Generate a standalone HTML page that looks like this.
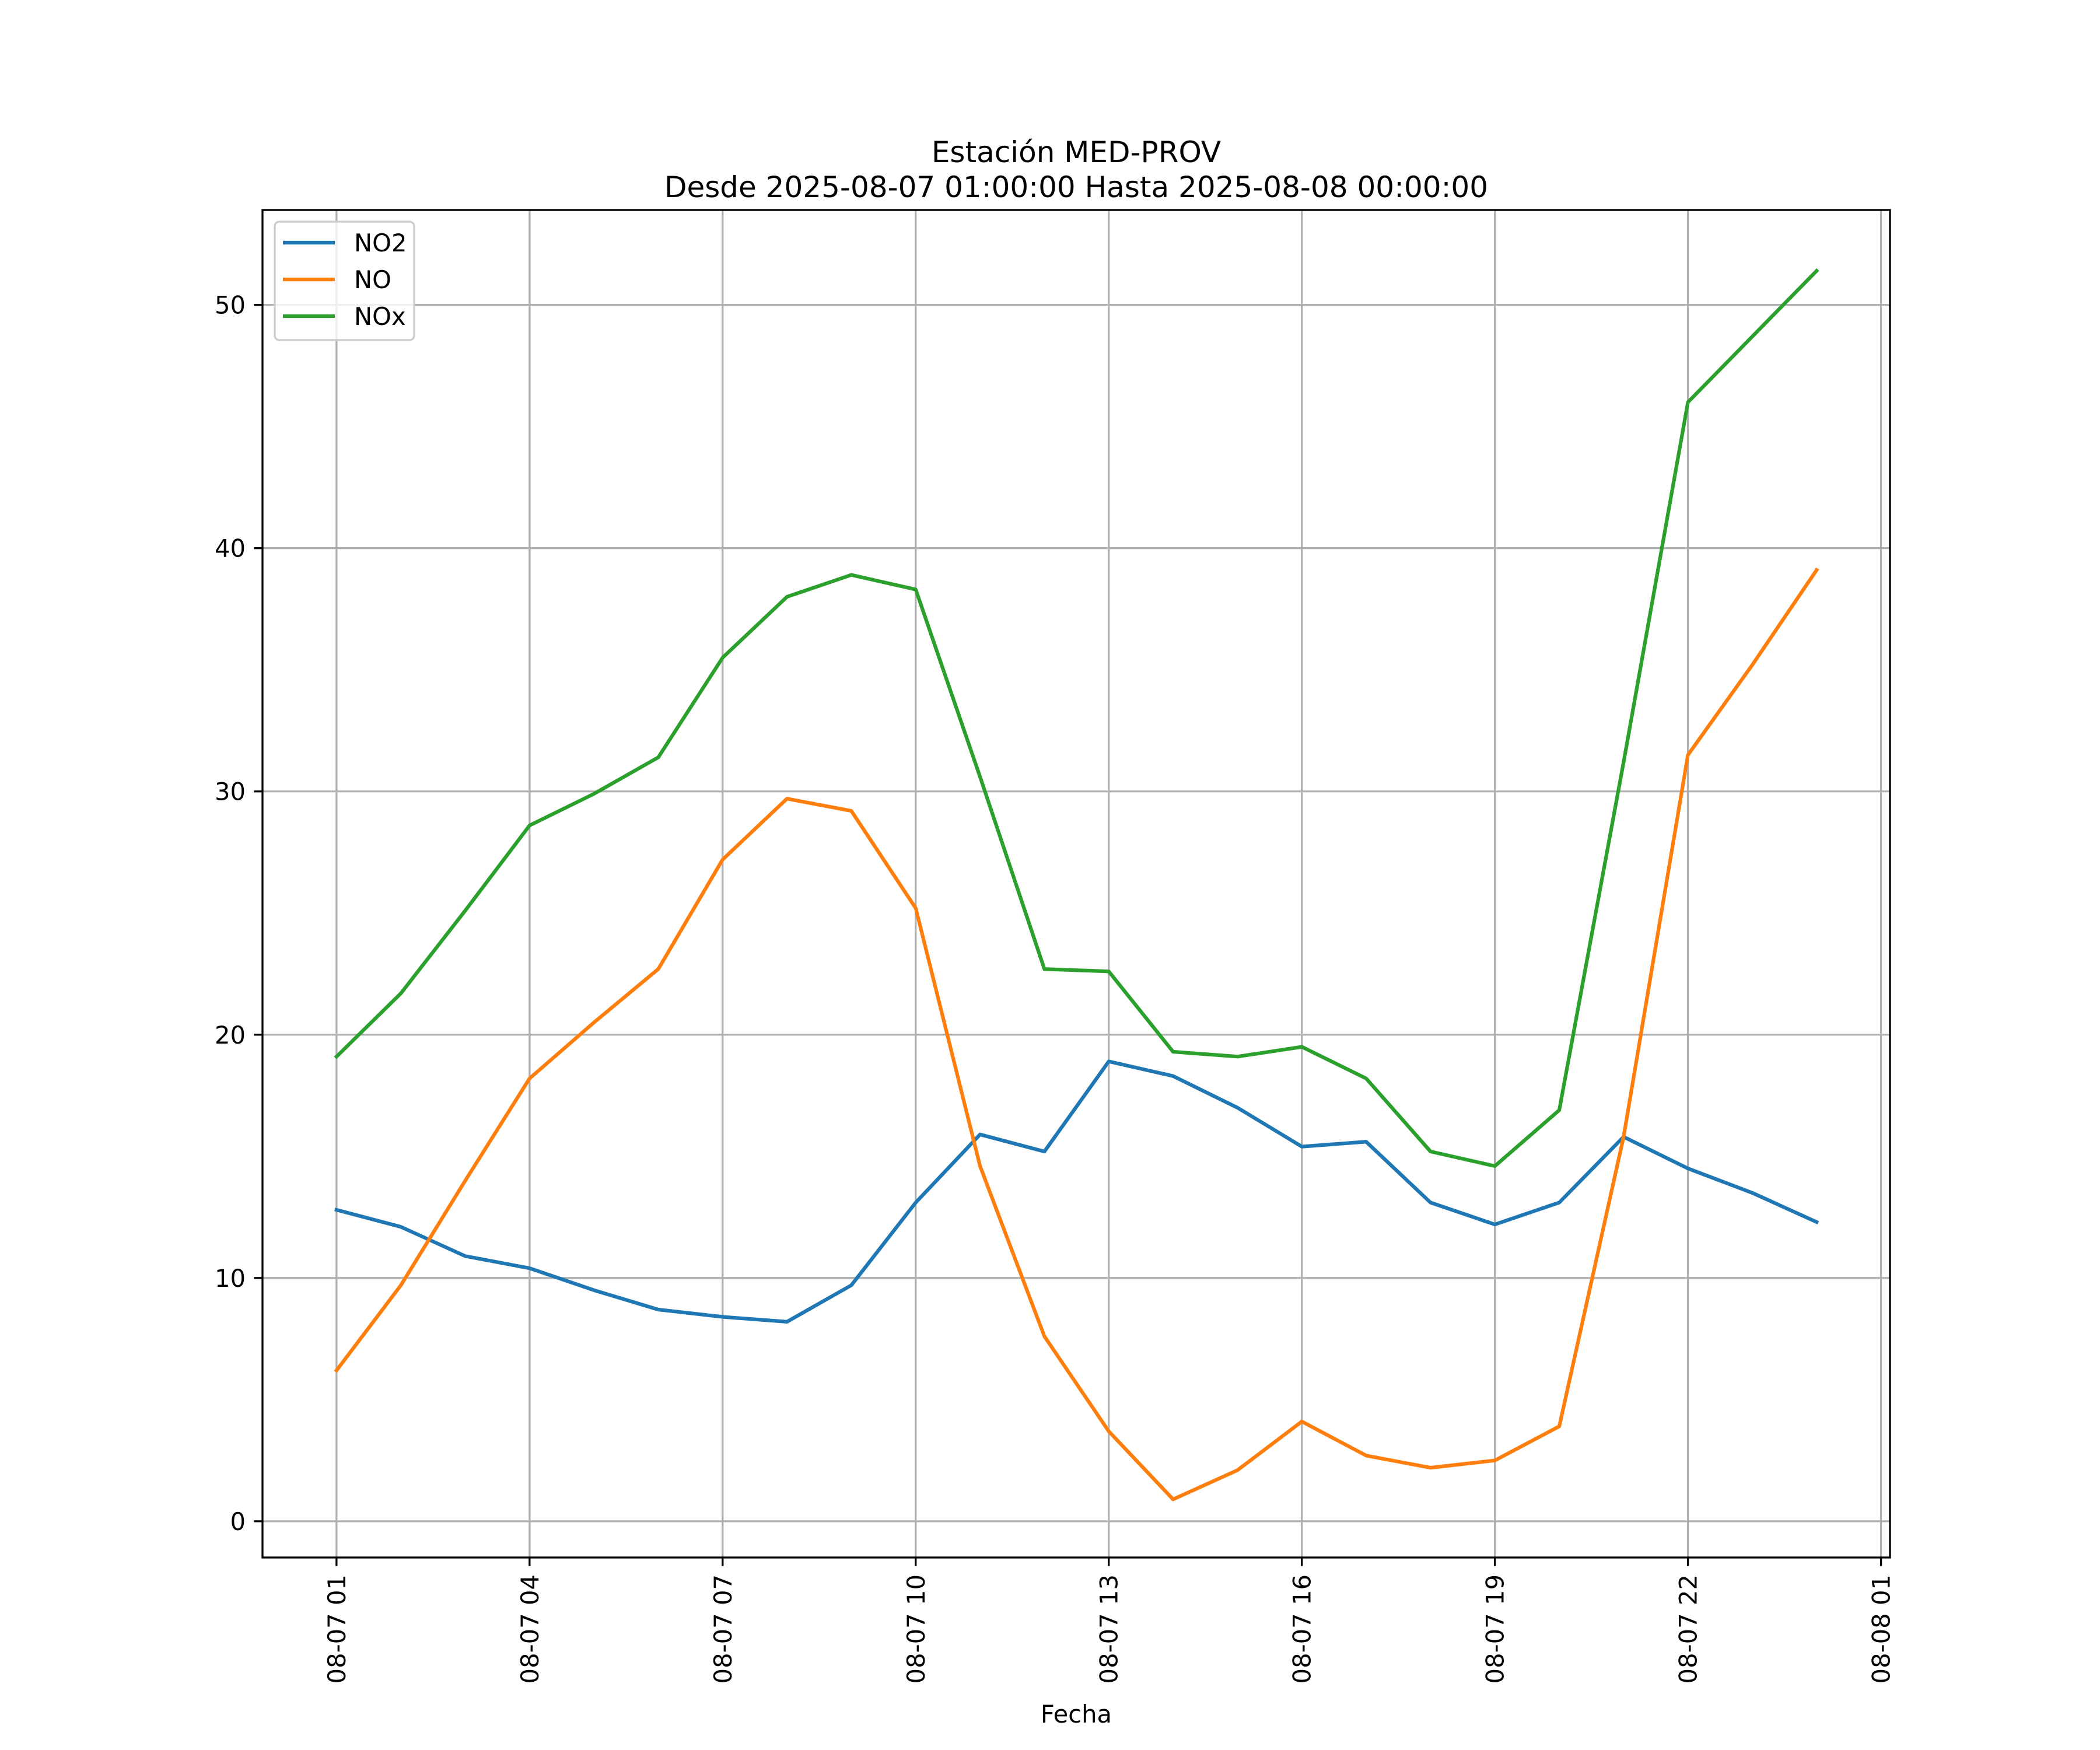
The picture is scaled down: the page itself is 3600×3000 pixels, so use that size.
<!DOCTYPE html>
<html><head><meta charset="utf-8"><style>
html,body{margin:0;padding:0;background:#fff}
svg{display:block;font-family:"DejaVu Sans","Liberation Sans",sans-serif}
</style></head><body>
<svg id="chart" width="3600" height="3000" viewBox="0 0 3600 3000" xmlns="http://www.w3.org/2000/svg">
<rect width="3600" height="3000" fill="#fff"/>
<text x="1845" y="278" font-size="50" text-anchor="middle">Estación MED-PROV</text>
<text x="1845" y="338" font-size="50" text-anchor="middle">Desde 2025-08-07 01:00:00 Hasta 2025-08-08 00:00:00</text>
<g id="grid"></g>
<g id="series"></g>
<rect x="450" y="360" width="2790" height="2310" fill="none" stroke="#000" stroke-width="3.3"/>
<g id="ticks"></g>
<text x="1845" y="2953" font-size="41.7" text-anchor="middle">Fecha</text>
<g>
<rect x="471" y="380" width="239" height="203" rx="8" fill="#fff" fill-opacity="0.8" stroke="#cccccc" stroke-width="3.3"/>
<line x1="485" y1="416" x2="574" y2="416" stroke="#1f77b4" stroke-width="6.25"/>
<text x="607" y="431" font-size="41.7">NO2</text>
<line x1="485" y1="479" x2="574" y2="479" stroke="#ff7f0e" stroke-width="6.25"/>
<text x="607" y="494" font-size="41.7">NO</text>
<line x1="485" y1="542" x2="574" y2="542" stroke="#2ca02c" stroke-width="6.25"/>
<text x="607" y="557" font-size="41.7">NOx</text>
</g>
</svg>
<script>
const hours = [0,1,2,3,4,5,6,7,8,9,10,11,12,13,14,15,16,17,18,19,20,21,22,23];
const no2 = [12.8,12.1,10.9,10.4,9.5,8.7,8.4,8.2,9.7,13.1,15.9,15.2,18.9,18.3,17.0,15.4,15.6,13.1,12.2,13.1,15.8,14.5,13.5,12.3];
const no = [6.2,9.7,14.0,18.2,20.5,22.7,27.2,29.7,29.2,25.2,14.6,7.6,3.7,0.9,2.1,4.1,2.7,2.2,2.5,3.9,15.8,31.5,35.2,39.1];
const nox = [19.1,21.7,25.1,28.6,29.9,31.4,35.5,38.0,38.9,38.3,30.6,22.7,22.6,19.3,19.1,19.5,18.2,15.2,14.6,16.9,31.2,46.0,48.7,51.4];
const yTicks = [0,10,20,30,40,50];
const xTickHours = [0,3,6,9,12,15,18,21,24];
const xTickLabels = ["08-07 01","08-07 04","08-07 07","08-07 10","08-07 13","08-07 16","08-07 19","08-07 22","08-08 01"];

const NS = "http://www.w3.org/2000/svg";
const L=450,R=3240,T=360,B=2670;
const xMin=-1.15,xMax=24.14,yMin=-1.49,yMax=53.9;
function xs(h){return L+(h-xMin)/(xMax-xMin)*(R-L);}
function ys(v){return B-(v-yMin)/(yMax-yMin)*(B-T);}
function mk(tag,attrs,parent){const e=document.createElementNS(NS,tag);for(const k in attrs)e.setAttribute(k,attrs[k]);parent.appendChild(e);return e;}
const grid=document.getElementById('grid'),ticks=document.getElementById('ticks'),series=document.getElementById('series');
yTicks.forEach(v=>{
  const y=ys(v);
  const g=mk('line',{x1:L,x2:R,y1:y,y2:y,stroke:'#b0b0b0','stroke-width':3.3},grid);
  
  
  const t=mk('line',{x1:L-14.6,x2:L,y1:y,y2:y,stroke:'#000','stroke-width':3.3},ticks);
  
  
  const lb=mk('text',{x:L-29,y:y+15,'font-size':41.7,'text-anchor':'end'},ticks);
  lb.textContent=String(v);
  
  
});
xTickHours.forEach((h,i)=>{
  const x=xs(h);
  const g=mk('line',{x1:x,x2:x,y1:T,y2:B,stroke:'#b0b0b0','stroke-width':3.3},grid);
  
  
  const t=mk('line',{x1:x,x2:x,y1:B,y2:B+14.6,stroke:'#000','stroke-width':3.3},ticks);
  
  
  const lb=mk('text',{x:0,y:0,'font-size':41.7,'text-anchor':'end',transform:`translate(${x+15},${B+29}) rotate(-90)`},ticks);
  lb.textContent=xTickLabels[i];
  
  
});
[[no2,'#1f77b4','line-no2'],[no,'#ff7f0e','line-no'],[nox,'#2ca02c','line-nox']].forEach(([d,c,n])=>{
  const pts=d.map((v,i)=>xs(hours[i]).toFixed(1)+','+ys(v).toFixed(1)).join(' ');
  const p=mk('polyline',{points:pts,fill:'none',stroke:c,'stroke-width':6.25,'stroke-linejoin':'round','stroke-linecap':'square'},series);
  
  
});
</script>
</body></html>
